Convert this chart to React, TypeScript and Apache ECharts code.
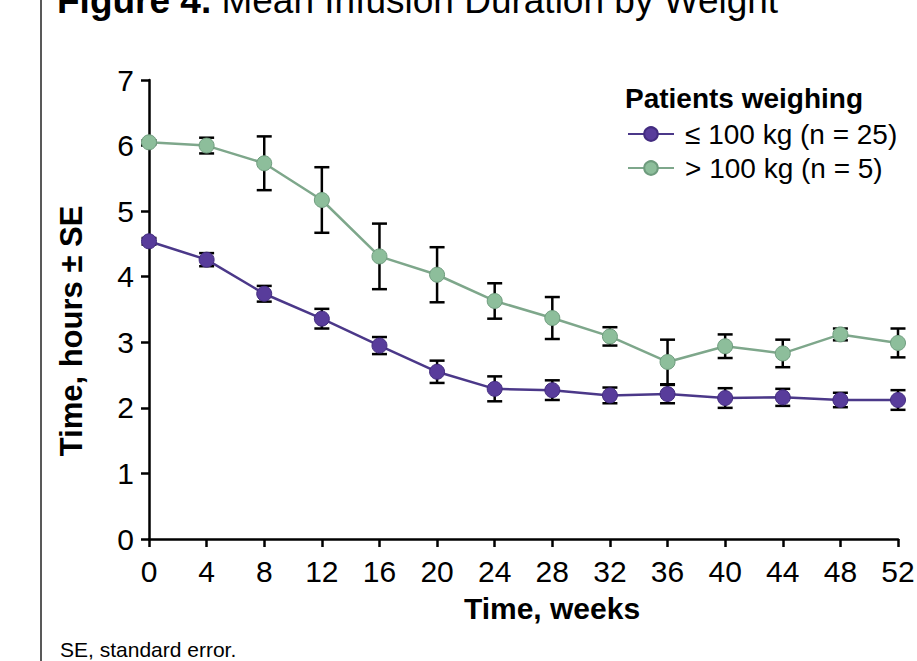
import React, { useEffect, useRef } from "react";
import * as echarts from "echarts";

const weeks = [0, 4, 8, 12, 16, 20, 24, 28, 32, 36, 40, 44, 48, 52];
const lightMean = [4.54, 4.26, 3.74, 3.36, 2.95, 2.55, 2.29, 2.27, 2.19, 2.21, 2.15, 2.16, 2.12, 2.12];
const lightSE = [0.05, 0.1, 0.12, 0.15, 0.13, 0.17, 0.19, 0.15, 0.12, 0.14, 0.15, 0.13, 0.11, 0.15];
const heavyMean = [6.05, 6.0, 5.73, 5.17, 4.31, 4.03, 3.63, 3.37, 3.09, 2.7, 2.94, 2.83, 3.12, 2.99];
const heavySE = [0.03, 0.12, 0.41, 0.5, 0.5, 0.42, 0.27, 0.32, 0.14, 0.34, 0.18, 0.21, 0.09, 0.22];
const seriesNames = ["≤ 100 kg (n = 25)", "> 100 kg (n = 5)"];
const yTicks = { min: 0, max: 7, interval: 1 };
const xTicks = { min: 0, max: 52, interval: 4 };

const FONT = "'Liberation Sans', Arial, Helvetica, sans-serif";
const PURPLE = "#583C9B";
const PURPLE_LINE = "#4B3889";
const GREEN = "#8DBE9B";
const GREEN_LINE = "#7EA78B";

function errorSeries(mean: number[], se: number[]) {
  return {
    type: "custom",
    silent: true,
    z: 1,
    data: weeks.map((w, i) => [w, mean[i], se[i]]),
    encode: { x: 0, y: 1 },
    renderItem: (params: any, api: any) => {
      const x = api.value(0);
      const y = api.value(1);
      const s = api.value(2);
      const top = api.coord([x, y + s]);
      const bot = api.coord([x, y - s]);
      const hw = 7.5;
      const st = { stroke: "#000", lineWidth: 2.5 };
      return {
        type: "group",
        children: [
          { type: "line", shape: { x1: top[0], y1: top[1], x2: bot[0], y2: bot[1] }, style: st },
          { type: "line", shape: { x1: top[0] - hw, y1: top[1], x2: top[0] + hw, y2: top[1] }, style: st },
          { type: "line", shape: { x1: bot[0] - hw, y1: bot[1], x2: bot[0] + hw, y2: bot[1] }, style: st },
        ],
      };
    },
  };
}

export default function App() {
  const ref = useRef<HTMLDivElement>(null);
  useEffect(() => {
    if (!ref.current) return;
    const chart = echarts.init(ref.current, null, { renderer: "svg" });
    const axisCommon = {
      axisLine: { show: true, lineStyle: { color: "#000", width: 2.5 } },
      axisTick: { show: true, length: 8, lineStyle: { color: "#000", width: 2.5 } },
      splitLine: { show: false },
    };
    chart.setOption({
      animation: false,
      backgroundColor: "#fff",
      textStyle: { fontFamily: FONT },
      grid: { left: 149, right: 19, top: 80, bottom: 122, outerBoundsMode: "none", containLabel: false },
      xAxis: {
        type: "value",
        min: xTicks.min,
        max: xTicks.max,
        interval: xTicks.interval,
        ...axisCommon,
        axisLabel: { fontSize: 30, color: "#000", margin: 17, fontFamily: FONT },
      },
      yAxis: {
        type: "value",
        min: yTicks.min,
        max: yTicks.max,
        interval: yTicks.interval,
        ...axisCommon,
        axisLabel: { fontSize: 30, color: "#000", margin: 15, fontFamily: FONT },
      },
      legend: {
        data: seriesNames,
        orient: "vertical",
        left: 622,
        top: 115,
        itemWidth: 46,
        itemHeight: 17,
        itemGap: 6,
        textStyle: { fontSize: 28, color: "#000", fontFamily: FONT, padding: [0, 0, 0, 6] },
      },
      graphic: [
        {
          type: "line",
          shape: { x1: 41, y1: 0, x2: 41, y2: 661 },
          style: { stroke: "#222", lineWidth: 1.5 },
        },
        {
          type: "text",
          x: 57,
          y: 0,
          style: {
            text: "{b|Figure 4.} Mean Infusion Duration by Weight",
            fontSize: 37,
            fontFamily: FONT,
            fill: "#000",
            verticalAlign: "middle",
            rich: { b: { fontWeight: "bold", fontSize: 37, fontFamily: FONT } },
          },
        },
        {
          type: "text",
          x: 625,
          y: 98,
          style: {
            text: "Patients weighing",
            fontSize: 28,
            fontWeight: "bold",
            fontFamily: FONT,
            fill: "#000",
            verticalAlign: "middle",
          },
        },
        {
          type: "text",
          x: 552,
          y: 608,
          style: {
            text: "Time, weeks",
            fontSize: 30,
            fontWeight: "bold",
            fontFamily: FONT,
            fill: "#000",
            align: "center",
            verticalAlign: "middle",
          },
        },
        {
          type: "text",
          x: 71,
          y: 331,
          rotation: Math.PI / 2,
          style: {
            text: "Time, hours ± SE",
            fontSize: 31,
            fontWeight: "bold",
            fontFamily: FONT,
            fill: "#000",
            align: "center",
            verticalAlign: "middle",
          },
        },
        {
          type: "text",
          x: 60,
          y: 649,
          style: {
            text: "SE, standard error.",
            fontSize: 21,
            fontFamily: FONT,
            fill: "#000",
            verticalAlign: "middle",
          },
        },
      ],
      series: [
        errorSeries(lightMean, lightSE),
        errorSeries(heavyMean, heavySE),
        {
          name: seriesNames[0],
          type: "line",
          z: 3,
          data: weeks.map((w, i) => [w, lightMean[i]]),
          symbol: "circle",
          symbolSize: 15,
          showAllSymbol: true,
          lineStyle: { color: PURPLE_LINE, width: 2.5 },
          itemStyle: { color: PURPLE, borderColor: "#432C80", borderWidth: 1 },
        },
        {
          name: seriesNames[1],
          type: "line",
          z: 3,
          data: weeks.map((w, i) => [w, heavyMean[i]]),
          symbol: "circle",
          symbolSize: 15,
          showAllSymbol: true,
          lineStyle: { color: GREEN_LINE, width: 2.5 },
          itemStyle: { color: GREEN, borderColor: "#6F9C7E", borderWidth: 1 },
        },
      ],
    });
    return () => chart.dispose();
  }, []);
  return (
    <div
      ref={ref}
      style={{ position: "fixed", left: 0, top: 0, width: 917, height: 661, background: "#fff" }}
    />
  );
}
